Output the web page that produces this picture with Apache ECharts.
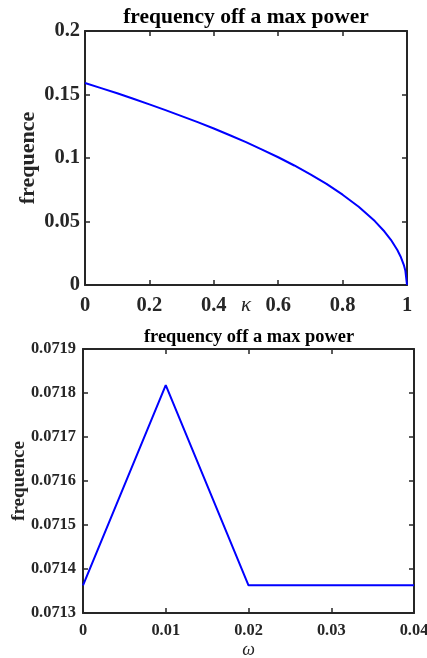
<!DOCTYPE html>
<html><head><meta charset="utf-8">
<script src="https://cdn.jsdelivr.net/npm/echarts@6/dist/echarts.min.js"></script>
<style>html,body{margin:0;padding:0;background:#fff}#c{width:427px;height:658px}</style>
</head><body><div id="c"></div>
<script>
const titleText = "frequency off a max power";
const kappa = [0, 0.05, 0.1, 0.15, 0.2, 0.25, 0.3, 0.35, 0.4, 0.45, 0.5, 0.55, 0.6, 0.65, 0.7, 0.75, 0.8, 0.85, 0.9, 0.93, 0.95, 0.97, 0.98, 0.99, 0.995, 1.0];
const freqTop = [0.159, 0.155, 0.151, 0.1466, 0.1422, 0.1377, 0.133, 0.1282, 0.1232, 0.1179, 0.1125, 0.1066, 0.1006, 0.0941, 0.0871, 0.0796, 0.0711, 0.0616, 0.0503, 0.0421, 0.0356, 0.0275, 0.0225, 0.0159, 0.0112, 0];
const omega = [0, 0.01, 0.02, 0.03, 0.04];
const freqBottom = [0.071363, 0.071818, 0.071363, 0.071363, 0.071363];
const topXTicks = ["0", "0.2", "0.4", "0.6", "0.8", "1"];
const topYTicks = ["0", "0.05", "0.1", "0.15", "0.2"];
const botXTicks = ["0", "0.01", "0.02", "0.03", "0.04"];
const botYTicks = ["0.0713", "0.0714", "0.0715", "0.0716", "0.0717", "0.0718", "0.0719"];

const F = 'Liberation Serif';
const AX = '#262626';
function fmt(list, step, min) {
  return v => { const i = Math.round((v - min) / step); return list[i] !== undefined ? list[i] : ''; };
}
function mainX(grid, min, max, interval, labels, size, name, nameSize, nameGap) {
  return {
    type: 'value', gridIndex: grid, min, max, interval, position: 'bottom',
    name, nameLocation: 'middle', nameGap, nameMoveOverlap: false,
    nameTextStyle: { fontFamily: F, fontStyle: 'italic', fontSize: nameSize, color: AX },
    axisLine: { show: true, onZero: false, lineStyle: { color: AX, width: 2 } },
    axisTick: { show: true, inside: true, length: 5, lineStyle: { color: AX, width: 1.5 } },
    axisLabel: { show: true, formatter: fmt(labels, interval, min), fontFamily: F, fontWeight: 'bold', fontSize: size, color: AX, margin: 10, hideOverlap: false },
    splitLine: { show: false }
  };
}
function sideX(grid, min, max, interval) {
  return {
    type: 'value', gridIndex: grid, min, max, interval, position: 'top',
    axisLine: { show: true, onZero: false, lineStyle: { color: AX, width: 2 } },
    axisTick: { show: true, inside: true, length: 5, lineStyle: { color: AX, width: 1.5 } },
    axisLabel: { show: false }, splitLine: { show: false }
  };
}
function mainY(grid, min, max, interval, labels, size, nameSize, nameGap, margin) {
  return {
    type: 'value', gridIndex: grid, min, max, interval, position: 'left',
    name: 'frequence', nameLocation: 'middle', nameGap, nameMoveOverlap: false,
    nameTextStyle: { fontFamily: F, fontWeight: 'bold', fontSize: nameSize, color: AX },
    axisLine: { show: true, onZero: false, lineStyle: { color: AX, width: 2 } },
    axisTick: { show: true, inside: true, length: 5, lineStyle: { color: AX, width: 1.5 } },
    axisLabel: { show: true, formatter: fmt(labels, interval, min), fontFamily: F, fontWeight: 'bold', fontSize: size, color: AX, margin },
    splitLine: { show: false }
  };
}
function sideY(grid, min, max, interval) {
  return {
    type: 'value', gridIndex: grid, min, max, interval, position: 'right',
    axisLine: { show: true, onZero: false, lineStyle: { color: AX, width: 2 } },
    axisTick: { show: true, inside: true, length: 5, lineStyle: { color: AX, width: 1.5 } },
    axisLabel: { show: false }, splitLine: { show: false }
  };
}

const chart = echarts.init(document.getElementById('c'), null, { renderer: 'canvas' });
chart.setOption({
  animation: false,
  backgroundColor: '#fff',
  title: [
    { text: titleText, left: 241, top: 1, textAlign: 'center', textStyle: { fontFamily: F, fontWeight: 'bold', fontSize: 21.5, color: '#000' } },
    { text: titleText, left: 244, top: 323, textAlign: 'center', textStyle: { fontFamily: F, fontWeight: 'bold', fontSize: 18.4, color: '#000' } }
  ],
  grid: [
    { left: 85, top: 31, width: 322, height: 254, outerBoundsMode: 'none', containLabel: false },
    { left: 83, top: 349, width: 331, height: 264, outerBoundsMode: 'none', containLabel: false }
  ],
  xAxis: [
    mainX(0, 0, 1, 0.2, topXTicks, 20.5, 'κ', 21, 10),
    sideX(0, 0, 1, 0.2),
    mainX(1, 0, 0.04, 0.01, botXTicks, 16.4, 'ω', 18, 28),
    sideX(1, 0, 0.04, 0.01)
  ],
  yAxis: [
    mainY(0, 0, 0.2, 0.05, topYTicks, 20.5, 22, 46, 5),
    sideY(0, 0, 0.2, 0.05),
    mainY(1, 0.0713, 0.0719, 0.0001, botYTicks, 16.4, 19, 54, 7),
    sideY(1, 0.0713, 0.0719, 0.0001)
  ],
  series: [
    { type: 'line', xAxisIndex: 0, yAxisIndex: 0, data: kappa.map((k, i) => [k, freqTop[i]]), showSymbol: false, symbol: 'none', lineStyle: { color: '#0000ff', width: 2 }, z: 5 },
    { type: 'line', xAxisIndex: 2, yAxisIndex: 2, data: omega.map((w, i) => [w, freqBottom[i]]), showSymbol: false, symbol: 'none', lineStyle: { color: '#0000ff', width: 2 }, z: 5 }
  ]
});
</script></body></html>
